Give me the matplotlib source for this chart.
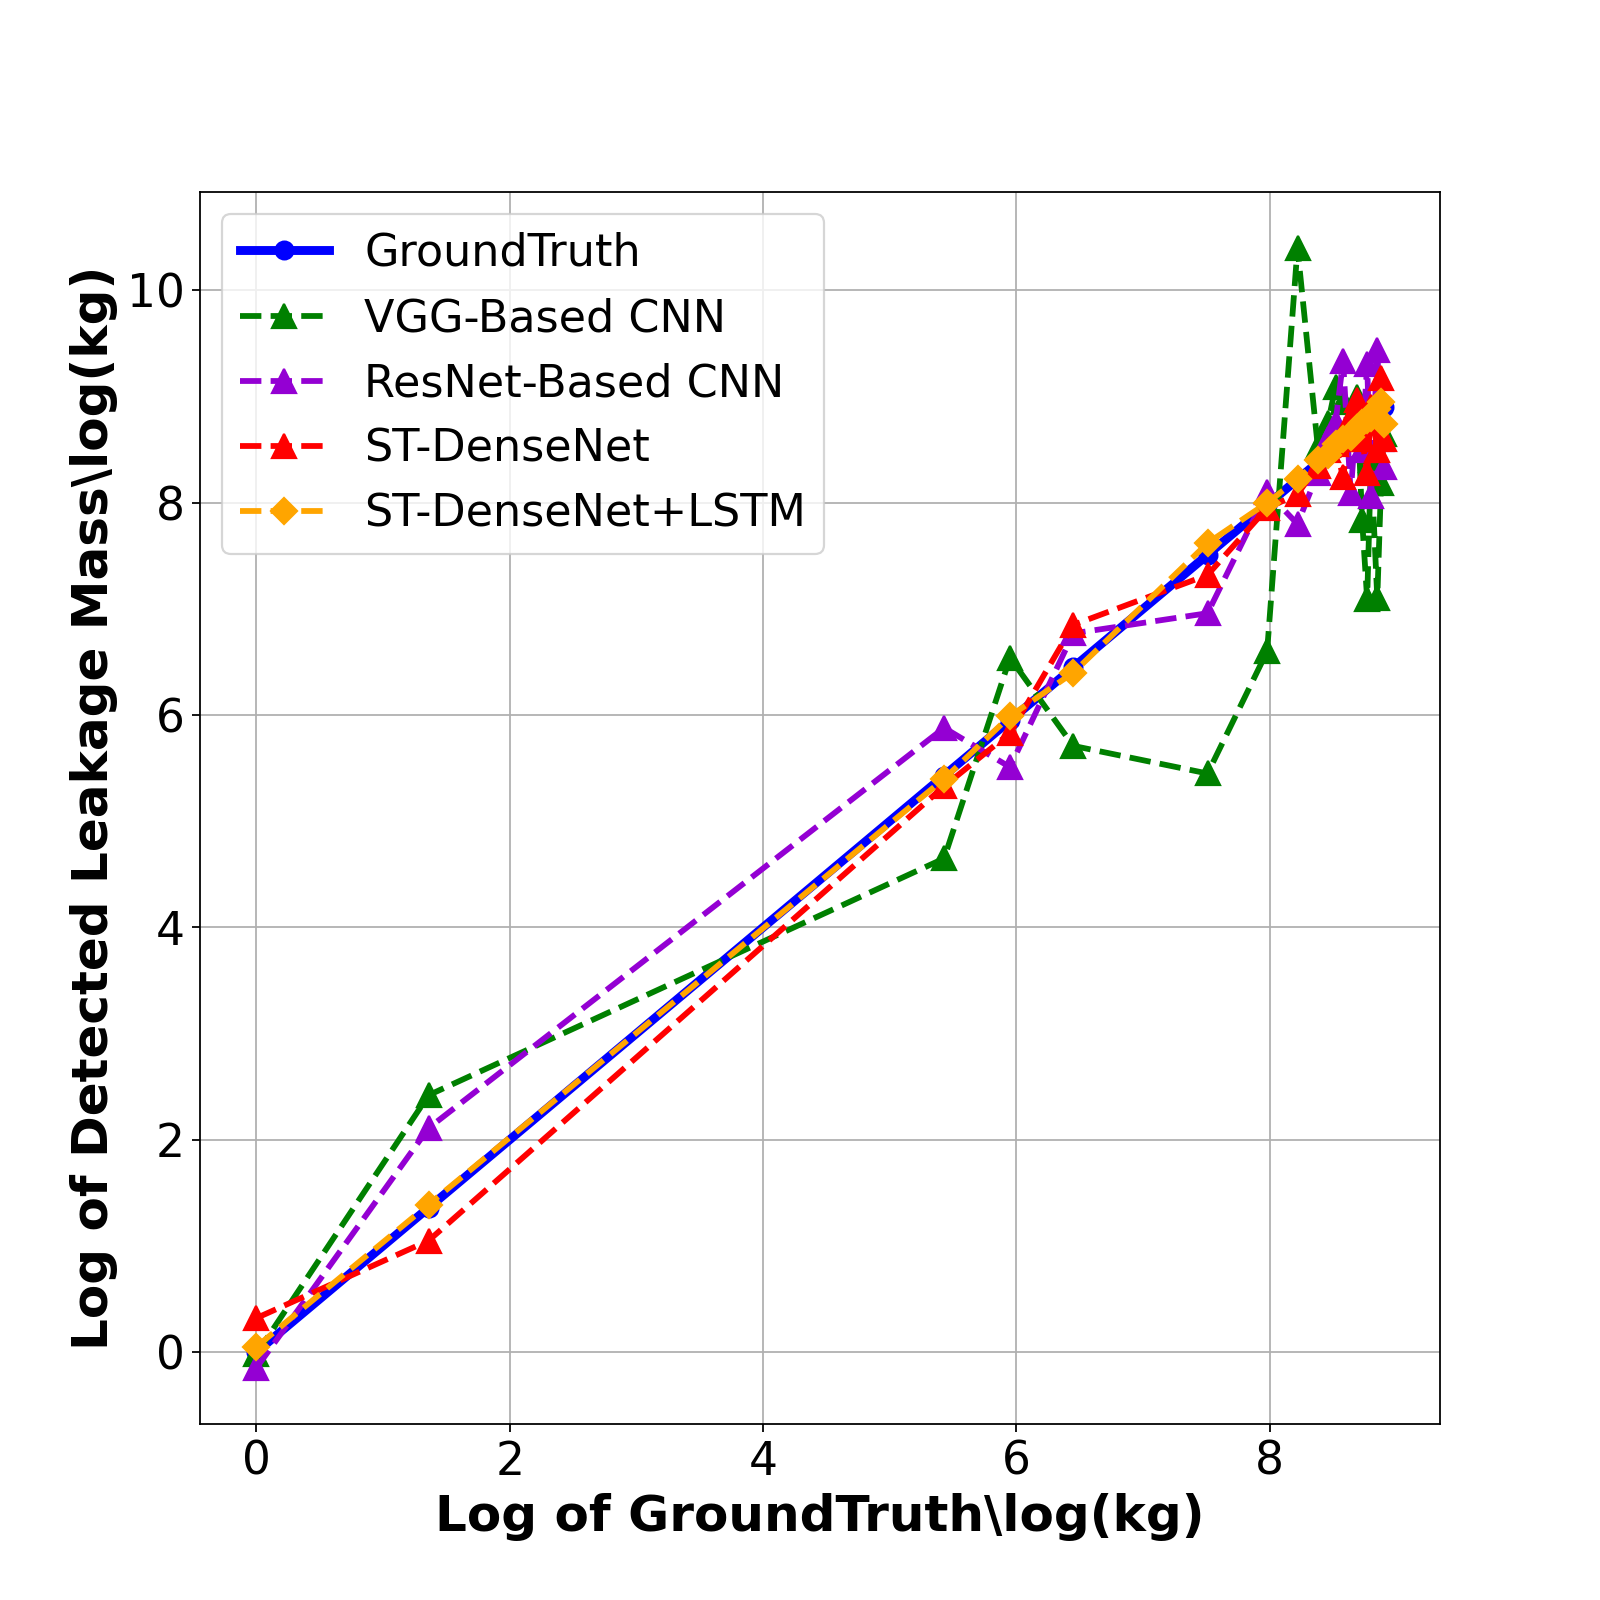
import matplotlib
matplotlib.use("Agg")
import matplotlib.pyplot as plt

# log of ground truth mass (x) and the detected values of each model
x_gt = [0.0, 1.36, 5.43, 5.95, 6.45, 7.51, 7.98, 8.22,
        8.38, 8.46, 8.52, 8.58, 8.64, 8.69, 8.73, 8.77, 8.80, 8.85, 8.88, 8.90]
y_gt = [0.0, 1.36, 5.43, 5.95, 6.45, 7.51, 7.98, 8.22,
        8.38, 8.46, 8.52, 8.58, 8.64, 8.69, 8.73, 8.77, 8.80, 8.85, 8.88, 8.90]
y_vgg = [-0.02, 2.42, 4.65, 6.54, 5.71, 5.45, 6.60, 10.40,
         8.53, 8.75, 9.09, 8.95, 8.60, 9.00, 7.84, 7.09, 8.40, 7.10, 8.19, 8.65]
y_resnet = [-0.15, 2.11, 5.88, 5.51, 6.77, 6.96, 8.10, 7.80,
            8.28, 8.60, 8.75, 9.34, 8.09, 8.90, 8.50, 9.31, 8.06, 9.44, 8.60, 8.34]
y_dense = [0.32, 1.05, 5.33, 5.83, 6.85, 7.32, 7.95, 8.08,
           8.35, 8.50, 8.55, 8.24, 8.80, 8.97, 8.60, 8.28, 8.90, 8.50, 9.18, 8.60]
y_lstm = [0.05, 1.39, 5.40, 5.99, 6.40, 7.62, 8.00, 8.22,
          8.40, 8.45, 8.55, 8.60, 8.62, 8.70, 8.75, 8.78, 8.80, 8.88, 8.95, 8.74]

fig, ax = plt.subplots(figsize=(10, 10), dpi=160)

ax.plot(x_gt, y_gt, color='blue', linestyle='-', linewidth=4, marker='o',
        markersize=8, label='GroundTruth')
ax.plot(x_gt, y_vgg, color='green', linestyle='--', linewidth=2.6, marker='^',
        markersize=10.5, label='VGG-Based CNN')
ax.plot(x_gt, y_resnet, color='darkviolet', linestyle='--', linewidth=2.6, marker='^',
        markersize=10.5, label='ResNet-Based CNN')
ax.plot(x_gt, y_dense, color='red', linestyle='--', linewidth=2.6, marker='^',
        markersize=10.5, label='ST-DenseNet')
ax.plot(x_gt, y_lstm, color='orange', linestyle='--', linewidth=2.6, marker='D',
        markersize=8.5, label='ST-DenseNet+LSTM')

ax.grid(True)
ax.tick_params(labelsize=20.5)
ax.set_xlabel('Log of GroundTruth\\log(kg)', fontsize=22.5, fontweight='bold')
ax.set_ylabel('Log of Detected Leakage Mass\\log(kg)', fontsize=22.5, fontweight='bold')
ax.legend(loc='upper left', fontsize=20)

fig.savefig('out.png', dpi=160)
